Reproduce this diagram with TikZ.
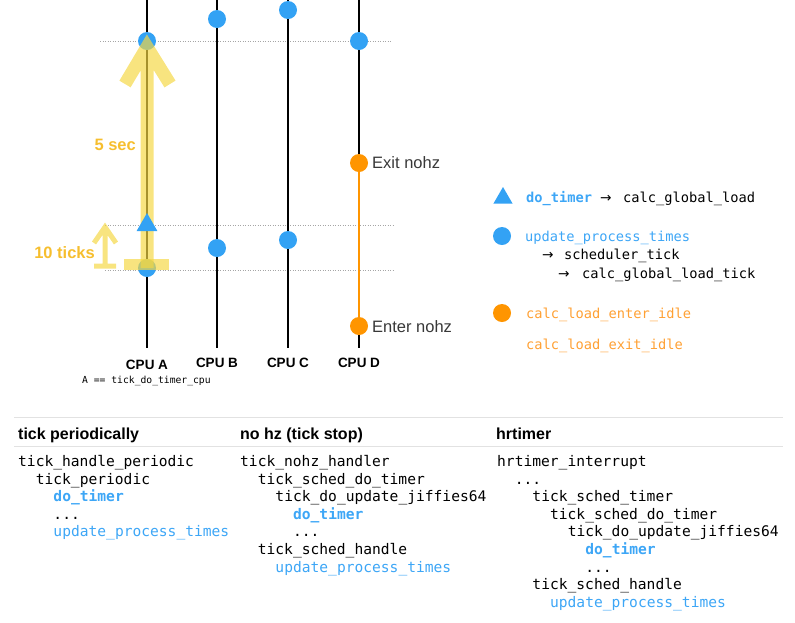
\documentclass[tikz,border=0pt]{standalone}
\usepackage{fontspec}
\usetikzlibrary{shapes.geometric}
\setmainfont{Liberation Sans}
\setmonofont{DejaVu Sans Mono}
\newfontfamily\arrowfont{DejaVu Sans}
\definecolor{dotblue}{HTML}{33A2F4}
\definecolor{txtblue}{HTML}{3DA6F6}
\definecolor{dotorange}{HTML}{FF9500}
\definecolor{txtorange}{HTML}{FFA033}
\definecolor{hilite}{HTML}{F5D742}
\definecolor{gold}{HTML}{F6BE2E}
\definecolor{rule}{HTML}{E2E2E2}
\begin{document}
\begin{tikzpicture}[x=1pt,y=-1pt,
  cpuline/.style={line width=2pt,black},
  guide/.style={gray!70,line width=0.6pt,dash pattern=on 1pt off 1.5pt},
  bdot/.style={circle,fill=dotblue,inner sep=0pt,minimum size=18pt},
  odot/.style={circle,fill=dotorange,inner sep=0pt,minimum size=18pt},
  tri/.style={regular polygon,regular polygon sides=3,fill=dotblue,inner sep=0pt,minimum size=24pt},
  hl/.style={draw=hilite,opacity=0.68,line width=13pt,line join=miter},
  hlthin/.style={draw=hilite,opacity=0.68,line width=5pt},
  txt/.style={inner sep=0pt,text height=0.75em,text depth=0.25em,yshift=-3pt},
  code/.style={txt,anchor=west,font=\fontsize{14.6}{17}\selectfont\ttfamily},
  lcode/.style={txt,anchor=west,font=\fontsize{13.7}{16}\selectfont\ttfamily},
  larrow/.style={txt,anchor=west,font=\fontsize{13.7}{16}\selectfont\arrowfont},
  hdr/.style={txt,anchor=west,font=\fontsize{16}{19}\selectfont\bfseries},
  cpu/.style={txt,font=\fontsize{13.5}{16}\selectfont\bfseries},
  nohz/.style={txt,anchor=west,text=black!78,font=\fontsize{16.5}{19}\selectfont},
  goldtxt/.style={txt,anchor=east,text=gold,font=\fontsize{16.5}{19}\selectfont\bfseries},
]
\useasboundingbox (0,0) rectangle (795,622);
% guide lines
\coordinate (g1a) at (100,41); \coordinate (g1b) at (391,41);
\coordinate (g2a) at (105,225); \coordinate (g2b) at (394,225);
\coordinate (g3a) at (105,270); \coordinate (g3b) at (394,270);
\draw[guide] (g1a) -- (g1b);
\draw[guide] (g2a) -- (g2b);
\draw[guide] (g3a) -- (g3b);
% cpu lines
\foreach \n/\x in {A/147,B/217,C/288,D/359}{
  \coordinate (top\n) at (\x,0);
  \coordinate (bot\n) at (\x,348);
}
\draw[cpuline] (topA) -- (botA);
\draw[cpuline] (topB) -- (botB);
\draw[cpuline] (topC) -- (botC);
\draw[cpuline] (topD) -- (botD);
% dots
\node[bdot] (a1) at (147,41) {};
\node[bdot] (a2) at (147,268) {};
\node[bdot] (b1) at (217,19) {};
\node[bdot] (b2) at (217,248) {};
\node[bdot] (c1) at (288,10) {};
\node[bdot] (c2) at (288,240) {};
\node[bdot] (d1) at (359,41) {};
\node[odot] (dexit) at (359,163) {};
\node[odot] (denter) at (359,326) {};
\draw[line width=2pt,dotorange] (dexit) -- (denter);
\node[nohz] (exitlbl) at (372,163) {Exit nohz};
\node[nohz] (enterlbl) at (372,327) {Enter nohz};
% yellow highlight
\coordinate (hlbot) at (147,268);
\coordinate (hltop) at (147,47);
\coordinate (hll) at (125,84);
\coordinate (hlr) at (170,84);
\draw[hl] (hlbot) -- (hltop) (hll) -- (hltop) -- (hlr);
\coordinate (barl) at (124,264.5); \coordinate (barr) at (169,264.5);
\draw[draw=hilite,opacity=0.68,line width=11pt] (barl) -- (barr);
\coordinate (sab) at (105,266); \coordinate (sat) at (105,227);
\coordinate (sal) at (94,266); \coordinate (sar) at (116,266);
\coordinate (sahl) at (94,243); \coordinate (sahr) at (116,243);
\draw[hlthin] (sab) -- (sat) (sal) -- (sar) (sahl) -- (sat) -- (sahr);
\node[tri] (trA) at (147,225) {};
\node[goldtxt] (fivesec) at (136,145) {5 sec};
\node[goldtxt] (tenticks) at (95,253) {10 ticks};
% cpu labels
\node[cpu] (lA) at (147,364) {CPU A};
\node[cpu] (lB) at (217,362) {CPU B};
\node[cpu] (lC) at (288,362) {CPU C};
\node[cpu] (lD) at (359,362) {CPU D};
\node[txt,anchor=west,font=\fontsize{9.7}{11}\selectfont\ttfamily] (anote) at (82,378) {A == tick\_do\_timer\_cpu};
% legend
\node[tri,minimum size=22pt] (legtri) at (503,198) {};
\node[lcode,text=txtblue,font=\fontsize{13.7}{16}\selectfont\ttfamily\bfseries] (l1) at (526,197) {do\_timer};
\node[larrow] (l1a) at (600,197) {→};
\node[lcode] (l1b) at (623,197) {calc\_global\_load};
\node[bdot] (legdot) at (502,236) {};
\node[lcode,text=txtblue] (l2) at (525,236) {update\_process\_times};
\node[larrow] (l2a) at (542,254) {→};
\node[lcode] (l2b) at (564,254) {scheduler\_tick};
\node[larrow] (l2c) at (558,273) {→};
\node[lcode] (l2d) at (582,273) {calc\_global\_load\_tick};
\node[odot] (legodot) at (502,313) {};
\node[lcode,text=txtorange] (l3) at (526,313) {calc\_load\_enter\_idle};
\node[lcode,text=txtorange] (l4) at (526,344) {calc\_load\_exit\_idle};
% table
\coordinate (r1a) at (14,417.5); \coordinate (r1b) at (783,417.5);
\coordinate (r2a) at (14,446.5); \coordinate (r2b) at (783,446.5);
\draw[rule,line width=1.2pt] (r1a) -- (r1b);
\draw[rule,line width=1pt] (r2a) -- (r2b);
\node[hdr] (h1) at (18,434) {tick periodically};
\node[hdr] (h2) at (240,434) {no hz (tick stop)};
\node[hdr] (h3) at (496,434) {hrtimer};
\def\cw{8.82}
\def\ry#1{461+17.6*#1}
% col 1
\node[code] (p0) at (18,{\ry{0}}) {tick\_handle\_periodic};
\node[code] (p1) at ({18+2*\cw},{\ry{1}}) {tick\_periodic};
\node[code,text=txtblue,font=\fontsize{14.6}{17}\selectfont\ttfamily\bfseries] (p2) at ({18+4*\cw},{\ry{2}}) {do\_timer};
\node[code] (p3) at ({18+4*\cw},{\ry{3}}) {...};
\node[code,text=txtblue] (p4) at ({18+4*\cw},{\ry{4}}) {update\_process\_times};
% col 2
\node[code] (n0) at (240,{\ry{0}}) {tick\_nohz\_handler};
\node[code] (n1) at ({240+2*\cw},{\ry{1}}) {tick\_sched\_do\_timer};
\node[code] (n2) at ({240+4*\cw},{\ry{2}}) {tick\_do\_update\_jiffies64};
\node[code,text=txtblue,font=\fontsize{14.6}{17}\selectfont\ttfamily\bfseries] (n3) at ({240+6*\cw},{\ry{3}}) {do\_timer};
\node[code] (n4) at ({240+6*\cw},{\ry{4}}) {...};
\node[code] (n5) at ({240+2*\cw},{\ry{5}}) {tick\_sched\_handle};
\node[code,text=txtblue] (n6) at ({240+4*\cw},{\ry{6}}) {update\_process\_times};
% col 3
\node[code] (t0) at (497,{\ry{0}}) {hrtimer\_interrupt};
\node[code] (t1) at ({497+2*\cw},{\ry{1}}) {...};
\node[code] (t2) at ({497+4*\cw},{\ry{2}}) {tick\_sched\_timer};
\node[code] (t3) at ({497+6*\cw},{\ry{3}}) {tick\_sched\_do\_timer};
\node[code] (t4) at ({497+8*\cw},{\ry{4}}) {tick\_do\_update\_jiffies64};
\node[code,text=txtblue,font=\fontsize{14.6}{17}\selectfont\ttfamily\bfseries] (t5) at ({497+10*\cw},{\ry{5}}) {do\_timer};
\node[code] (t6) at ({497+10*\cw},{\ry{6}}) {...};
\node[code] (t7) at ({497+4*\cw},{\ry{7}}) {tick\_sched\_handle};
\node[code,text=txtblue] (t8) at ({497+6*\cw},{\ry{8}}) {update\_process\_times};
\end{tikzpicture}
\end{document}
